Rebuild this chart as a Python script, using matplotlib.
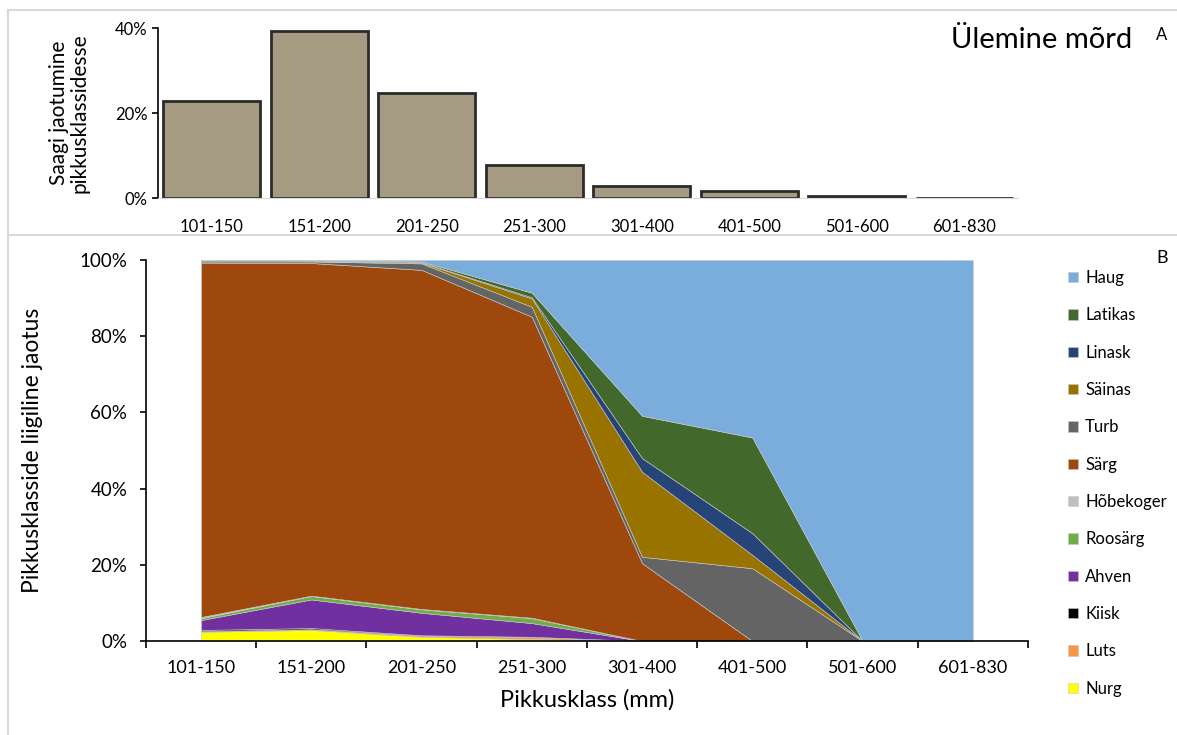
import matplotlib.pyplot as plt
from matplotlib.lines import Line2D
from matplotlib.ticker import FuncFormatter, FixedLocator

plt.rcParams['font.family'] = ['Lato', 'DejaVu Sans']

classes = ['101-150', '151-200', '201-250', '251-300', '301-400', '401-500', '501-600', '601-830']

# A: share of catch per length class (%)
catch_share = [22.8, 39.3, 24.7, 7.8, 2.8, 1.6, 0.5, 0.1]

# B: species composition per length class (%), bottom to top
species = ['Nurg', 'Luts', 'Kiisk', 'Ahven', 'Roosärg', 'Hõbekoger',
           'Särg', 'Turb', 'Säinas', 'Linask', 'Latikas', 'Haug']
nurg = [2.4, 2.9, 1.1, 0.5, 0, 0, 0, 0]
luts = [0.2, 0.2, 0.3, 0.5, 0, 0, 0, 0]
kiisk = [0.3, 0.3, 0.1, 0.1, 0, 0, 0, 0]
ahven = [2.6, 7.5, 5.9, 3.6, 0, 0, 0, 0]
roosarg = [0.5, 0.9, 0.9, 1.3, 0, 0, 0, 0]
hobekoger = [0.3, 0.1, 0.1, 0.1, 0, 0, 0, 0]
sarg = [93.0, 87.3, 89.0, 79.0, 20.4, 0, 0, 0]
turb = [0.3, 0.4, 1.7, 2.6, 1.7, 19.1, 0, 0]
sainas = [0.1, 0.1, 0.2, 2.2, 22.3, 3.5, 0, 0]
linask = [0.0, 0.0, 0.1, 0.3, 3.6, 5.7, 0, 0]
latikas = [0.3, 0.2, 0.2, 1.2, 11.1, 25.1, 0, 0]
haug = [0.0, 0.1, 0.4, 8.6, 40.9, 46.6, 100, 100]

colors = ['#FFFF00', '#F79646', '#000000', '#7030A0', '#70AD47', '#BFBFBF',
          '#9E480E', '#646464', '#997300', '#264478', '#43682B', '#7AADDC']

fig = plt.figure(figsize=(11.77, 7.35), dpi=100)

pct = FuncFormatter(lambda v, p: '{:.0f}%'.format(v))

# ---- A ----
ax1 = fig.add_axes([0.1342, 0.7306, 0.7307, 0.2313])
x = list(range(len(classes)))
ax1.bar(x, catch_share, width=0.9, color='#A59A82', edgecolor='#2b2b2b', linewidth=2, zorder=2)
ax1.set_xlim(-0.5, 7.5)
ax1.set_ylim(0, 40)
ax1.set_yticks([0, 20, 40])
ax1.yaxis.set_major_formatter(pct)
ax1.set_xticks(x)
ax1.set_xticklabels(classes)
ax1.tick_params(axis='x', length=0, pad=15, labelsize=12)
ax1.tick_params(axis='y', length=4.5, width=1.2, labelsize=12, pad=3)
for s in ['top', 'right']:
    ax1.spines[s].set_visible(False)
ax1.spines['bottom'].set_color('#d9d9d9')
ax1.spines['bottom'].set_zorder(3)
ax1.spines['left'].set_linewidth(1.2)
ax1.set_ylabel('Saagi jaotumine\npikkusklassidesse', fontsize=15, labelpad=18, linespacing=1.05)
fig.text(0.962, 0.946, 'Ülemine mõrd', fontsize=21, ha='right', va='center')
fig.text(0.987, 0.953, 'A', fontsize=12, ha='center', va='center')

# ---- B ----
ax2 = fig.add_axes([0.124, 0.1279, 0.7494, 0.5184])
stacks = [nurg, luts, kiisk, ahven, roosarg, hobekoger, sarg, turb, sainas, linask, latikas, haug]
ax2.stackplot(x, stacks, labels=species, colors=colors, edgecolor='#c8c8c8', linewidth=0.4)
ax2.set_xlim(-0.5, 7.5)
ax2.set_ylim(0, 100)
ax2.set_yticks([0, 20, 40, 60, 80, 100])
ax2.yaxis.set_major_formatter(pct)
ax2.set_xticks(x)
ax2.set_xticklabels(classes)
ax2.xaxis.set_minor_locator(FixedLocator([i - 0.5 for i in range(len(classes) + 1)]))
ax2.tick_params(axis='x', which='major', length=0, pad=14, labelsize=13)
ax2.tick_params(axis='x', which='minor', length=5, width=1.2)
ax2.tick_params(axis='y', length=4.5, width=1.2, labelsize=13.5, pad=9)
for s in ['top', 'right']:
    ax2.spines[s].set_visible(False)
ax2.spines['left'].set_linewidth(1.2)
ax2.spines['bottom'].set_linewidth(1.2)
ax2.set_xlabel('Pikkusklass (mm)', fontsize=17, labelpad=9)
ax2.set_ylabel('Pikkusklasside liigiline jaotus', fontsize=16.5, labelpad=26)

handles, labels = ax2.get_legend_handles_labels()
fig.legend(handles[::-1], labels[::-1], loc='upper left', bbox_to_anchor=(0.895, 0.653),
           frameon=False, fontsize=12, handlelength=0.6, handleheight=0.6,
           handletextpad=0.4, labelspacing=1.28)
fig.text(0.987, 0.649, 'B', fontsize=13, ha='center', va='center')

# chart frames
for seg in [([8 / 1177, 1], [1 - 10 / 735, 1 - 10 / 735]),
            ([8 / 1177, 1], [1 - 235 / 735, 1 - 235 / 735]),
            ([8 / 1177, 8 / 1177], [0, 1 - 10 / 735])]:
    fig.add_artist(Line2D(seg[0], seg[1], color='#d9d9d9', lw=1.5, transform=fig.transFigure))

fig.savefig('out.png', dpi=100)
